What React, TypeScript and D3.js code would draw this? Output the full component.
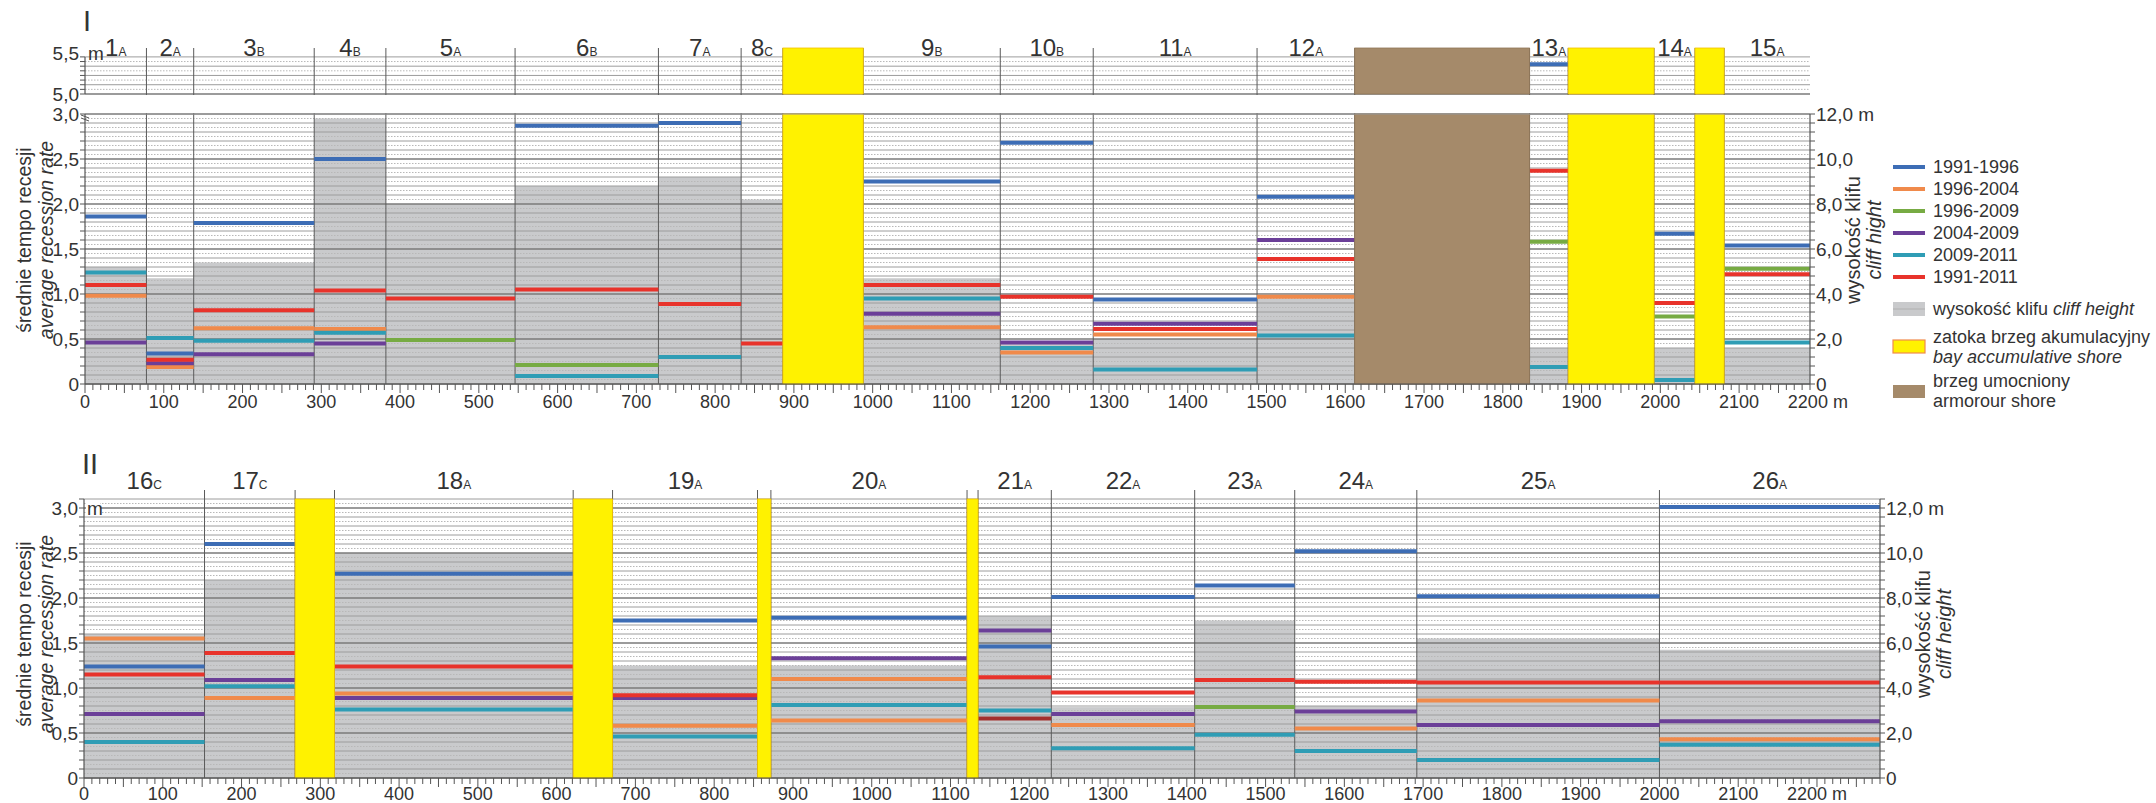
import React from "react";
import * as d3 from "d3";

const W = 2156;
const H = 803;
const FONT = "'Liberation Sans Narrow','Arial Narrow','Liberation Sans',Arial,sans-serif";

// series (legend order)
const seriesNames = ["1991-1996", "1996-2004", "1996-2009", "2004-2009", "2009-2011", "1991-2011"];
const seriesColors = ["#3d6db5", "#f08a4b", "#77ab43", "#6b3f98", "#2f9db5", "#e8332b"];

// ---- panel I ----
const topSegNum = ["1", "2", "3", "4", "5", "6", "7", "8", "9", "10", "11", "12", "13", "14", "15"];
const topSegType = ["A", "A", "B", "B", "A", "B", "A", "C", "B", "B", "A", "A", "A", "A", "A"];
const topSegStart = [0, 78, 138, 291, 382, 546, 728, 833, 988, 1162, 1280, 1488, 1834, 1992, 2081];
const topSegEnd = [78, 138, 291, 382, 546, 728, 833, 886, 1162, 1280, 1488, 1612, 1883, 2044, 2190];
// cliff height, m
const topCliff = [5.2, 4.7, 5.4, 11.8, 8.0, 8.8, 9.2, 8.2, 4.7, 1.9, 2.0, 3.8, 1.6, 1.6, 1.6];
const topYellow = [[886, 988], [1883, 1992], [2044, 2081]];
const topBrown = [[1612, 1834]];
// average recession rate, m/yr
const top9196 = [1.86, 0.34, 1.79, 2.5, null, 2.87, 2.9, null, 2.25, 2.68, 0.94, 2.08, 5.4, 1.67, 1.54];
const top9604 = [0.98, 0.19, 0.62, 0.61, null, null, null, null, 0.63, 0.35, 0.55, 0.97, null, null, null];
const top9609 = [null, null, null, null, 0.49, 0.21, null, null, null, null, null, null, 1.58, 0.75, 1.28];
const top0409 = [0.46, 0.23, 0.33, 0.45, null, null, null, null, 0.78, 0.46, 0.67, 1.6, null, null, null];
const top0911 = [1.24, 0.51, 0.48, 0.57, null, 0.09, 0.3, null, 0.95, 0.4, 0.16, 0.54, 0.19, 0.045, 0.46];
const top9111 = [1.1, 0.27, 0.82, 1.04, 0.95, 1.05, 0.89, 0.45, 1.1, 0.97, 0.61, 1.39, 2.37, 0.9, 1.22];

// ---- panel II ----
const botSegNum = ["16", "17", "18", "19", "20", "21", "22", "23", "24", "25", "26"];
const botSegType = ["C", "C", "A", "A", "A", "A", "A", "A", "A", "A", "A"];
const botSegStart = [0, 153, 318, 671, 872, 1135, 1228, 1410, 1537, 1692, 2000];
const botSegEnd = [153, 268, 621, 855, 1121, 1228, 1410, 1537, 1692, 2000, 2280];
const botCliff = [6.4, 8.8, 10.0, 5.0, 5.0, 7.2, 3.15, 7.0, 3.2, 6.2, 5.7];
const botYellow = [[268, 318], [621, 671], [855, 872], [1121, 1135]];
const bot9196 = [1.24, 2.6, 2.27, 1.75, 1.78, 1.46, 2.01, 2.14, 2.52, 2.02, 3.01];
const bot9604 = [1.55, 0.89, 0.94, 0.58, 1.1, null, 0.59, null, 0.55, 0.86, 0.43];
const bot9609 = [null, null, null, null, null, null, null, 0.79, null, null, null];
const bot0409 = [0.71, 1.09, 0.89, 0.89, 1.33, 1.64, 0.71, null, 0.74, 0.59, 0.63];
const bot0911 = [0.4, 1.02, 0.76, 0.46, 0.81, 0.75, 0.33, 0.48, 0.3, 0.2, 0.37];
const bot9111 = [1.15, 1.39, 1.24, 0.92, null, 1.12, 0.95, 1.09, 1.07, 1.06, 1.06];
// odd extra marks in the original
const botOrangeB = [null, null, null, null, 0.64, null, null, null, null, null, null];
const botDarkRed = [null, null, null, null, null, 0.66, null, null, null, null, null];

const fmt = (v: number) => d3.format(".1f")(v).replace(".", ",");

function Panel(p: any) {
  const { x, y, ys, yc, segNum, segType, segStart, segEnd, cliff, yellow, brown, series, extras,
    topY, labelY, tickLabelY, roman, romanY, gridMax, rightTitle, leftLabelTop, cliffMax, titleY } = p;
  const [x0, x1] = x.range();
  const y0 = y(0);
  const gridVals = d3.range(0, Math.round(gridMax / 0.05) + 1).map((k) => k * 0.05);
  const stripVals = ys ? d3.range(0, 9).map((k) => 5 + (k * 0.5) / 8) : [];
  const xTicks = d3.range(0, x.domain()[1] + 0.1, 10);
  const xLabels = d3.range(0, 2201, 100);
  const rightTicks = d3.range(0, cliffMax + 0.01, 0.4);
  const rightLabels = d3.range(0, 12.01, 2);
  const bounds = Array.from(new Set([...segStart, ...segEnd])).filter((v) => v > 0 && v < x.domain()[1]);
  const yTop = y(gridMax);
  const mainTop = ys ? y(3) : yTop;
  const ry = (v: number) => (ys && v > 3 ? ys(v) : y(v));
  return (
    <g>
      {/* cliff height */}
      {cliff.map((h: number, i: number) => (
        <rect key={"c" + i} x={x(segStart[i])} width={x(segEnd[i]) - x(segStart[i])} y={yc(h)} height={y0 - yc(h)} fill="#c9cacc" />
      ))}
      {/* grid */}
      {gridVals.map((v: number, i: number) => {
        const major = i % 10 === 0;
        const solid = i % 2 === 0;
        return (
          <line key={"g" + i} x1={x0} x2={x1} y1={y(v)} y2={y(v)} stroke={major ? "#7a7a7a" : solid ? "#9c9c9c" : "#b8b8b8"}
            strokeWidth={major ? 1.3 : 1} strokeDasharray={solid ? undefined : "1.5,1.5"} />
        );
      })}
      {stripVals.map((v: number, i: number) => (
        <line key={"s" + i} x1={x0} x2={x1} y1={ys(v)} y2={ys(v)} stroke={i === 0 ? "#7a7a7a" : i % 2 === 0 ? "#9c9c9c" : "#b8b8b8"}
          strokeWidth={i === 0 ? 1.5 : 1} strokeDasharray={i % 2 === 1 ? "1.5,1.5" : undefined} />
      ))}
      {/* segment separators */}
      {bounds.map((b: number, i: number) => (
        <line key={"b" + i} x1={x(b)} x2={x(b)} y1={topY} y2={y0} stroke="#5a5a5a" strokeWidth={1} />
      ))}
      {/* recession rate lines */}
      {series.map((s: any[], si: number) =>
        s.map((v: number | null, i: number) =>
          v == null ? null : (
            <line key={"r" + si + "-" + i} x1={x(segStart[i])} x2={x(segEnd[i])} y1={ry(v)} y2={ry(v)} stroke={seriesColors[si]} strokeWidth={4} />
          )
        )
      )}
      {extras.map((e: any, ei: number) =>
        e.values.map((v: number | null, i: number) =>
          v == null ? null : (
            <line key={"e" + ei + "-" + i} x1={x(segStart[i])} x2={x(segEnd[i])} y1={y(v)} y2={y(v)} stroke={e.color} strokeWidth={4} />
          )
        )
      )}
      {/* bays and armoured shore */}
      {[...yellow.map((r: number[]) => ({ r, fill: "#fff200", stroke: "#f3c000" })), ...brown.map((r: number[]) => ({ r, fill: "#a58a6a", stroke: "#8f7658" }))].map((b: any, i: number) => (
        <g key={"y" + i}>
          <rect x={x(b.r[0])} width={x(b.r[1]) - x(b.r[0])} y={mainTop} height={y0 - mainTop} fill={b.fill} stroke={b.stroke} strokeWidth={0.8} />
          {ys ? <rect x={x(b.r[0])} width={x(b.r[1]) - x(b.r[0])} y={topY} height={ys(5) - topY} fill={b.fill} stroke={b.stroke} strokeWidth={0.8} /> : null}
        </g>
      ))}
      {ys ? <rect x={x0 - 2} width={x1 - x0 + 4} y={ys(5) + 1} height={y(3) - ys(5) - 2} fill="#fff" /> : null}
      {ys ? <line x1={x0} x2={x1} y1={y(3)} y2={y(3)} stroke="#9c9c9c" /> : null}
      {/* x axis */}
      <line x1={x0} x2={x1} y1={y0} y2={y0} stroke="#555" strokeWidth={1.2} />
      {xTicks.map((t: number) => (
        <line key={"xt" + t} x1={x(t)} x2={x(t)} y1={y0} y2={y0 + (t % 50 === 0 ? 9 : 6)} stroke="#555" strokeWidth={1} />
      ))}
      {xLabels.map((t: number) => (
        <text key={"xl" + t} x={x(t)} y={tickLabelY} textAnchor="middle" fontSize={18} fill="#333">
          {t === 2200 ? "2200 m" : t}
        </text>
      ))}
      {/* left axis */}
      <line x1={x0} x2={x0} y1={yTop} y2={y0} stroke="#555" strokeWidth={1.2} />
      {gridVals.filter((_: number, i: number) => i % 2 === 0).map((v: number) => (
        <line key={"lt" + v} x1={x0 - 5} x2={x0} y1={y(v)} y2={y(v)} stroke="#555" />
      ))}
      {d3.range(0, 3.01, 0.5).map((v: number) => (
        <text key={"ll" + v} x={x0 - 6} y={y(v)} dy="0.35em" textAnchor="end" fontSize={19} fill="#333">
          {v === 0 ? "0" : fmt(v)}
        </text>
      ))}
      {leftLabelTop ? (
        <g>
          <rect x={x0 + 2} y={y(3) - 8} width={14} height={16} fill="#fff" />
          <text x={x0 + 3} y={y(3)} dy="0.35em" fontSize={19} fill="#333">m</text>
        </g>
      ) : null}
      {ys ? (
        <g>
          <line x1={x0} x2={x0} y1={ys(5.5)} y2={ys(5)} stroke="#555" strokeWidth={1.2} />
          {stripVals.map((v: number) => <line key={"st" + v} x1={x0 - 5} x2={x0} y1={ys(v)} y2={ys(v)} stroke="#555" />)}
          <text x={x0 - 6} y={ys(5)} dy="0.35em" textAnchor="end" fontSize={19} fill="#333">5,0</text>
          <text x={x0 - 6} y={ys(5.5) - 4} dy="0.35em" textAnchor="end" fontSize={19} fill="#333">5,5</text>
          <text x={x0 + 3} y={ys(5.5) - 4} dy="0.35em" fontSize={19} fill="#333">m</text>
          <path d={`M${x0 - 4},${y(3) + 1} l8,3 M${x0 - 4},${y(3) + 4} l8,3`} stroke="#555" fill="none" />
        </g>
      ) : null}
      {/* right axis */}
      <line x1={x1} x2={x1} y1={yc(cliffMax)} y2={y0} stroke="#555" strokeWidth={1.2} />
      {rightTicks.map((t: number) => (
        <line key={"rt" + t} x1={x1} x2={x1 + 5} y1={yc(t)} y2={yc(t)} stroke="#555" />
      ))}
      {rightLabels.map((t: number) => (
        <text key={"rl" + t} x={x1 + 6} y={yc(t)} dy="0.35em" fontSize={19} fill="#333">
          {t === 0 ? "0" : t === 12 ? "12,0 m" : fmt(t)}
        </text>
      ))}
      <text transform={`translate(${x1 + 50},${titleY}) rotate(-90)`} textAnchor="middle" fontSize={20} fill="#333">wysokość klifu</text>
      <text transform={`translate(${x1 + 71},${titleY}) rotate(-90)`} textAnchor="middle" fontSize={20} fontStyle="italic" fill="#333">{rightTitle}</text>
      {/* left titles */}
      <text transform={`translate(31,${titleY}) rotate(-90)`} textAnchor="middle" fontSize={19.5} fill="#333">średnie tempo recesji</text>
      <text transform={`translate(53,${titleY}) rotate(-90)`} textAnchor="middle" fontSize={19.5} fontStyle="italic" fill="#333">average recession rate</text>
      {/* segment labels */}
      {segNum.map((n: string, i: number) => (
        <text key={"sl" + i} x={(x(segStart[i]) + x(segEnd[i])) / 2} y={labelY} textAnchor="middle" fontSize={24} fill="#333">
          {n}
          <tspan fontSize={12}>{segType[i]}</tspan>
        </text>
      ))}
      <text x={x0 - 2} y={romanY} fontSize={29} fill="#333">{roman}</text>
    </g>
  );
}

function Legend() {
  const lx = 1893;
  const rows = [167, 189, 211, 233, 255, 277];
  return (
    <g fontSize={18} fill="#333">
      {seriesNames.map((n, i) => (
        <g key={n}>
          <line x1={lx} x2={lx + 32} y1={rows[i]} y2={rows[i]} stroke={seriesColors[i]} strokeWidth={4} />
          <text x={lx + 40} y={rows[i]} dy="0.35em">{n}</text>
        </g>
      ))}
      <rect x={lx} y={302} width={32} height={14} fill="#c9cacc" />
      <line x1={lx} x2={lx + 32} y1={309} y2={309} stroke="#b0b0b0" />
      <text x={lx + 40} y={309} dy="0.35em">wysokość klifu <tspan fontStyle="italic">cliff height</tspan></text>
      <rect x={lx} y={340} width={32} height={13} fill="#fff200" stroke="#f08a4b" strokeWidth={1.2} />
      <text x={lx + 40} y={337} dy="0.35em">zatoka brzeg akumulacyjny</text>
      <text x={lx + 40} y={357} dy="0.35em" fontStyle="italic">bay accumulative shore</text>
      <rect x={lx} y={385} width={32} height={13} fill="#a58a6a" />
      <text x={lx + 40} y={381} dy="0.35em">brzeg umocniony</text>
      <text x={lx + 40} y={401} dy="0.35em">armorour shore</text>
    </g>
  );
}

export default function App() {
  const xTop = d3.scaleLinear().domain([0, 2190]).range([85, 1810]);
  const yTop = d3.scaleLinear().domain([0, 3]).range([384, 114]);
  const yStrip = d3.scaleLinear().domain([5, 5.62]).range([94, 48]);
  const cTop = d3.scaleLinear().domain([0, 12]).range([384, 114]);

  const xBot = d3.scaleLinear().domain([0, 2280]).range([84, 1880]);
  const yBot = d3.scaleLinear().domain([0, 3.2]).range([778, 490]);
  const cBot = d3.scaleLinear().domain([0, 12.8]).range([778, 490]);

  return (
    <div style={{ position: "absolute", left: 0, top: 0 }}>
      <svg width={W} height={H} style={{ display: "block", fontFamily: FONT, background: "#fff" }}>
        <rect width={W} height={H} fill="#fff" />
        <Panel x={xTop} y={yTop} ys={yStrip} yc={cTop} segNum={topSegNum} segType={topSegType}
          segStart={topSegStart} segEnd={topSegEnd} cliff={topCliff} yellow={topYellow} brown={topBrown}
          series={[top9196, top9604, top9609, top0409, top0911, top9111]} extras={[]}
          topY={48} labelY={56} tickLabelY={408} roman="I" romanY={31} gridMax={3}
          rightTitle="cliff hight" leftLabelTop={false} cliffMax={12} titleY={240} />
        <Panel x={xBot} y={yBot} ys={null} yc={cBot} segNum={botSegNum} segType={botSegType}
          segStart={botSegStart} segEnd={botSegEnd} cliff={botCliff} yellow={botYellow} brown={[]}
          series={[bot9196, bot9604, bot9609, bot0409, bot0911, bot9111]}
          extras={[{ values: botOrangeB, color: seriesColors[1] }, { values: botDarkRed, color: "#a3302c" }]}
          topY={490} labelY={489} tickLabelY={800} roman="II" romanY={474} gridMax={3.1}
          rightTitle="cliff height" leftLabelTop={true} cliffMax={12.4} titleY={634} />
        <Legend />
      </svg>
    </div>
  );
}
